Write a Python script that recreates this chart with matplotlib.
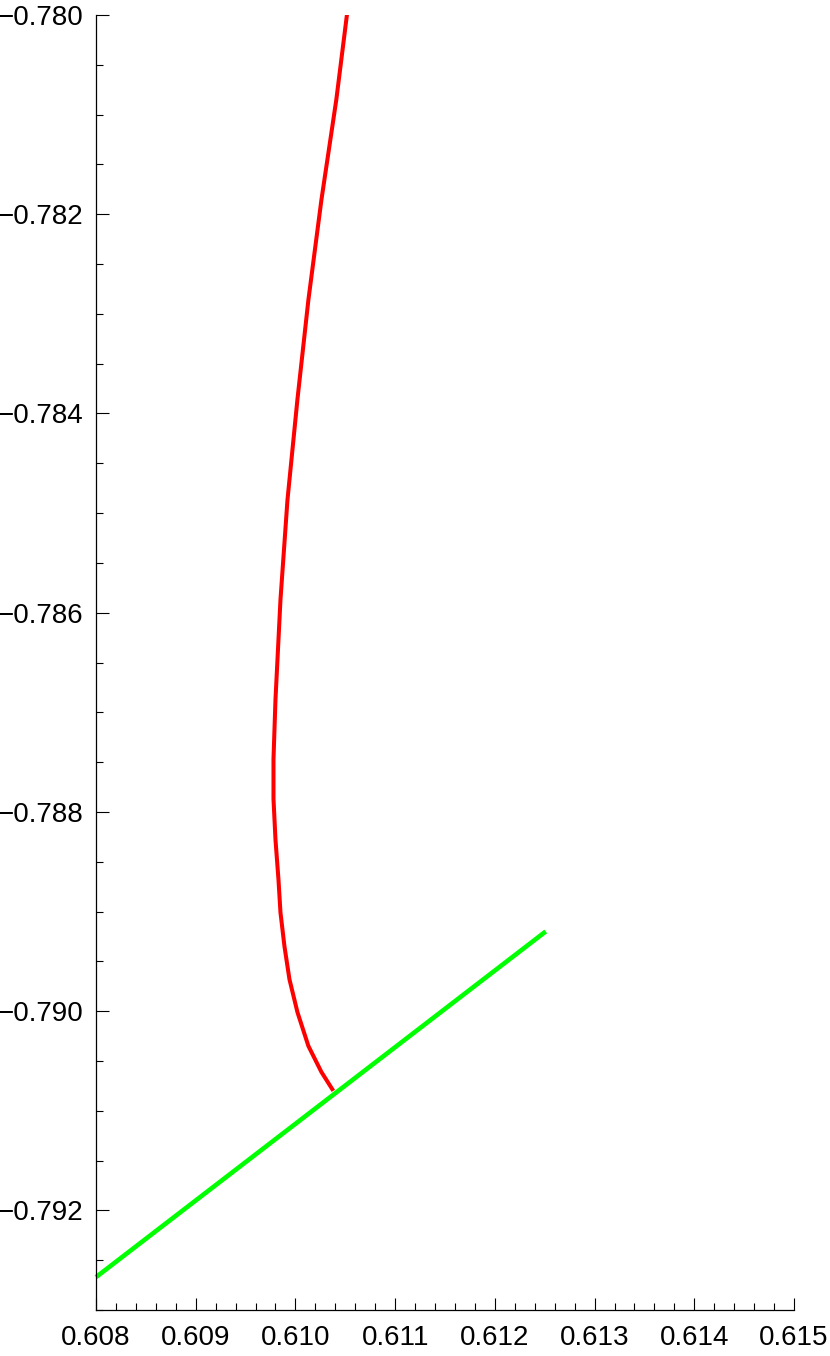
import numpy as np
import matplotlib.pyplot as plt
from matplotlib.ticker import MultipleLocator, FuncFormatter

plt.rcParams["font.family"] = ["Liberation Sans", "DejaVu Sans"]

# red curve
red_x = [0.61052, 0.61041, 0.61026, 0.61013, 0.61002, 0.60992, 0.60985,
         0.60980, 0.60978, 0.60978, 0.60980, 0.60983, 0.60985, 0.60989,
         0.60994, 0.61002, 0.61013, 0.61026, 0.61038]
red_y = [-0.77997, -0.78085, -0.78186, -0.78286, -0.78386, -0.78487, -0.78587,
         -0.78687, -0.78747, -0.78787, -0.78828, -0.78868, -0.78901, -0.78935,
         -0.78968, -0.79001, -0.79035, -0.79061, -0.79080]

# green segment
green_x = [0.6080, 0.61251]
green_y = [-0.79267, -0.78920]

x_ticks = [0.608, 0.609, 0.610, 0.611, 0.612, 0.613, 0.614, 0.615]
y_ticks = [-0.792, -0.790, -0.788, -0.786, -0.784, -0.782, -0.780]


def fmt(v, pos):
    return "{:.3f}".format(v).replace("-", "\u2212")


fig = plt.figure(figsize=(8.3, 13.56), dpi=100)
ax = fig.add_axes([96 / 830, 46 / 1356, (794 - 96) / 830, (1310 - 15) / 1356])

ax.plot(green_x, green_y, color="#00ff00", lw=3.3, solid_capstyle="butt", clip_on=False)
ax.plot(red_x, red_y, color="#ff0000", lw=2.9, solid_capstyle="butt", solid_joinstyle="round")

ax.set_xlim(0.608, 0.615)
ax.set_ylim(-0.793, -0.780)
ax.set_xticks(x_ticks)
ax.set_yticks(y_ticks)
ax.xaxis.set_minor_locator(MultipleLocator(0.0002))
ax.yaxis.set_minor_locator(MultipleLocator(0.0005))
ax.xaxis.set_major_formatter(FuncFormatter(fmt))
ax.yaxis.set_major_formatter(FuncFormatter(fmt))

for s in ["top", "right"]:
    ax.spines[s].set_visible(False)
for s in ["left", "bottom"]:
    ax.spines[s].set_linewidth(0.9)

ax.tick_params(which="major", direction="in", length=9, width=0.8, labelsize=20)
ax.tick_params(which="minor", direction="in", length=5, width=0.8)
ax.tick_params(axis="y", which="major", pad=9)
ax.tick_params(axis="x", which="major", pad=11)

plt.savefig("out.png", dpi=100)
plt.close(fig)
